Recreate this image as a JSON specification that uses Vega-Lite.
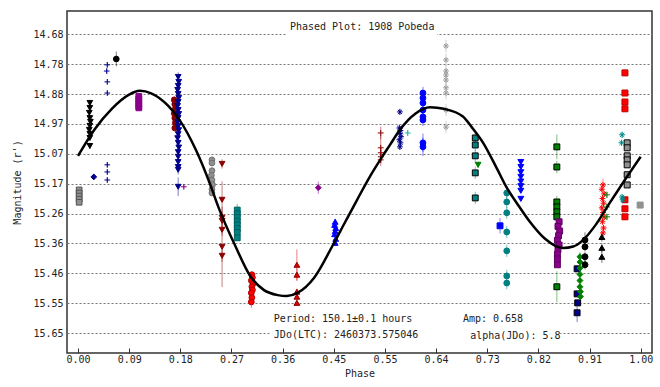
{
  "$schema": "https://vega.github.io/schema/vega-lite/v6.json",
  "width": 585,
  "height": 342,
  "autosize": {"type": "none"},
  "padding": {"left": 67, "top": 11, "right": 8, "bottom": 34},
  "background": "white",
  "config": {
    "view": {"stroke": "#333333", "strokeWidth": 1.5},
    "font": "DejaVu Sans Mono",
    "axis": {"labelOverlap": false, "labelSeparation": 0},
    "axisY": {"labelOverlap": false}
  },
  "datasets": {
    "pts": [
      {"s":"s1","p":0.002,"m":15.187,"e":0.005},{"s":"s1","p":0.002,"m":15.197,"e":0.005},{"s":"s1","p":0.002,"m":15.207,"e":0.005},{"s":"s1","p":0.002,"m":15.217,"e":0.005},{"s":"s1","p":0.002,"m":15.227,"e":0.005},
      {"s":"s2","p":0.021,"m":14.906,"e":0.01},{"s":"s2","p":0.021,"m":14.922,"e":0.01},{"s":"s2","p":0.020,"m":14.938,"e":0.01},{"s":"s2","p":0.021,"m":14.955,"e":0.01},{"s":"s2","p":0.022,"m":14.967,"e":0.01},{"s":"s2","p":0.021,"m":14.98,"e":0.01},{"s":"s2","p":0.020,"m":14.993,"e":0.01},{"s":"s2","p":0.021,"m":15.006,"e":0.01},{"s":"s2","p":0.021,"m":15.019,"e":0.01},{"s":"s2","p":0.021,"m":15.045,"e":0.01},
      {"s":"s3","p":0.052,"m":14.783,"e":0.008},{"s":"s3","p":0.051,"m":14.803,"e":0.008},{"s":"s3","p":0.052,"m":14.838,"e":0.008},{"s":"s3","p":0.052,"m":14.874,"e":0.008},{"s":"s3","p":0.052,"m":15.106,"e":0.008},{"s":"s3","p":0.052,"m":15.129,"e":0.008},{"s":"s3","p":0.052,"m":15.155,"e":0.008},
      {"s":"s4","p":0.028,"m":15.145,"e":0.01},
      {"s":"s5","p":0.068,"m":14.764,"e":0.024},
      {"s":"s6","p":0.108,"m":14.885,"e":0.005},{"s":"s6","p":0.108,"m":14.893,"e":0.005},{"s":"s6","p":0.108,"m":14.901,"e":0.005},{"s":"s6","p":0.108,"m":14.909,"e":0.005},{"s":"s6","p":0.108,"m":14.917,"e":0.005},{"s":"s6","p":0.108,"m":14.922,"e":0.005},
      {"s":"s7","p":0.171,"m":14.896,"e":0.01},{"s":"s7","p":0.172,"m":14.91,"e":0.01},{"s":"s7","p":0.173,"m":14.925,"e":0.01},{"s":"s7","p":0.171,"m":14.94,"e":0.01},{"s":"s7","p":0.172,"m":14.955,"e":0.01},{"s":"s7","p":0.173,"m":14.97,"e":0.01},{"s":"s7","p":0.172,"m":14.987,"e":0.01},
      {"s":"s8","p":0.178,"m":14.822,"e":0.015},{"s":"s8","p":0.179,"m":14.838,"e":0.015},{"s":"s8","p":0.178,"m":14.851,"e":0.015},{"s":"s8","p":0.177,"m":14.864,"e":0.015},{"s":"s8","p":0.178,"m":14.877,"e":0.015},{"s":"s8","p":0.179,"m":14.89,"e":0.015},{"s":"s8","p":0.178,"m":14.903,"e":0.015},{"s":"s8","p":0.177,"m":14.916,"e":0.015},{"s":"s8","p":0.178,"m":14.929,"e":0.015},{"s":"s8","p":0.179,"m":14.942,"e":0.015},{"s":"s8","p":0.178,"m":14.955,"e":0.015},{"s":"s8","p":0.177,"m":14.968,"e":0.015},{"s":"s8","p":0.178,"m":14.981,"e":0.015},{"s":"s8","p":0.179,"m":14.994,"e":0.015},{"s":"s8","p":0.178,"m":15.007,"e":0.015},{"s":"s8","p":0.177,"m":15.02,"e":0.015},{"s":"s8","p":0.178,"m":15.035,"e":0.015},{"s":"s8","p":0.179,"m":15.05,"e":0.015},{"s":"s8","p":0.178,"m":15.065,"e":0.015},{"s":"s8","p":0.178,"m":15.08,"e":0.015},{"s":"s8","p":0.178,"m":15.097,"e":0.015},{"s":"s8","p":0.178,"m":15.113,"e":0.015},{"s":"s8","p":0.178,"m":15.122,"e":0.015},{"s":"s8","p":0.178,"m":15.177,"e":0.03},
      {"s":"s9","p":0.188,"m":15.177,"e":0.008},
      {"s":"s10","p":0.238,"m":15.09,"e":0.01},{"s":"s10","p":0.238,"m":15.1,"e":0.01},{"s":"s10","p":0.238,"m":15.125,"e":0.01},{"s":"s10","p":0.237,"m":15.14,"e":0.01},{"s":"s10","p":0.238,"m":15.155,"e":0.01},{"s":"s10","p":0.239,"m":15.17,"e":0.01},{"s":"s10","p":0.238,"m":15.185,"e":0.01},{"s":"s10","p":0.238,"m":15.197,"e":0.01},
      {"s":"s11","p":0.256,"m":15.103,"e":0.015},{"s":"s11","p":0.256,"m":15.219,"e":0.06},{"s":"s11","p":0.256,"m":15.277,"e":0.02},{"s":"s11","p":0.256,"m":15.287,"e":0.02},{"s":"s11","p":0.256,"m":15.316,"e":0.02},{"s":"s11","p":0.256,"m":15.371,"e":0.13},{"s":"s11","p":0.256,"m":15.4,"e":0.02},
      {"s":"s12","p":0.283,"m":15.252,"e":0.02},{"s":"s12","p":0.283,"m":15.264,"e":0.01},{"s":"s12","p":0.283,"m":15.276,"e":0.01},{"s":"s12","p":0.283,"m":15.288,"e":0.01},{"s":"s12","p":0.283,"m":15.3,"e":0.01},{"s":"s12","p":0.283,"m":15.312,"e":0.01},{"s":"s12","p":0.283,"m":15.324,"e":0.01},{"s":"s12","p":0.283,"m":15.342,"e":0.01},
      {"s":"s13","p":0.309,"m":15.461,"e":0.01},{"s":"s13","p":0.310,"m":15.47,"e":0.01},{"s":"s13","p":0.308,"m":15.48,"e":0.01},{"s":"s13","p":0.311,"m":15.49,"e":0.01},{"s":"s13","p":0.309,"m":15.5,"e":0.01},{"s":"s13","p":0.310,"m":15.51,"e":0.01},{"s":"s13","p":0.308,"m":15.52,"e":0.01},{"s":"s13","p":0.309,"m":15.535,"e":0.01},{"s":"s13","p":0.308,"m":15.549,"e":0.02},
      {"s":"s14","p":0.389,"m":15.429,"e":0.05},{"s":"s14","p":0.389,"m":15.461,"e":0.02},{"s":"s14","p":0.389,"m":15.516,"e":0.01},{"s":"s14","p":0.389,"m":15.532,"e":0.01},{"s":"s14","p":0.389,"m":15.552,"e":0.01},
      {"s":"s15","p":0.427,"m":15.18,"e":0.02},
      {"s":"s16","p":0.457,"m":15.29,"e":0.01},{"s":"s16","p":0.456,"m":15.3,"e":0.01},{"s":"s16","p":0.458,"m":15.31,"e":0.01},{"s":"s16","p":0.457,"m":15.32,"e":0.01},{"s":"s16","p":0.456,"m":15.33,"e":0.01},{"s":"s16","p":0.458,"m":15.345,"e":0.01},{"s":"s16","p":0.457,"m":15.358,"e":0.01},
      {"s":"s17","p":0.538,"m":15.003,"e":0.02},{"s":"s17","p":0.538,"m":15.051,"e":0.04},{"s":"s17","p":0.538,"m":15.067,"e":0.02},{"s":"s17","p":0.538,"m":15.08,"e":0.02},{"s":"s17","p":0.538,"m":15.09,"e":0.02},
      {"s":"s18","p":0.572,"m":14.935,"e":0.01},{"s":"s18","p":0.571,"m":14.987,"e":0.01},{"s":"s18","p":0.573,"m":14.995,"e":0.01},{"s":"s18","p":0.572,"m":15.005,"e":0.01},{"s":"s18","p":0.574,"m":15.015,"e":0.01},{"s":"s18","p":0.571,"m":15.025,"e":0.01},{"s":"s18","p":0.573,"m":15.035,"e":0.01},{"s":"s18","p":0.572,"m":15.048,"e":0.01},
      {"s":"s19","p":0.586,"m":15.003,"e":0.01},
      {"s":"s20","p":0.613,"m":14.874,"e":0.02},{"s":"s20","p":0.613,"m":14.89,"e":0.02},{"s":"s20","p":0.613,"m":14.906,"e":0.02},{"s":"s20","p":0.613,"m":14.929,"e":0.02},{"s":"s20","p":0.613,"m":14.951,"e":0.02},{"s":"s20","p":0.613,"m":14.961,"e":0.02},{"s":"s20","p":0.613,"m":15.035,"e":0.03},{"s":"s20","p":0.613,"m":15.048,"e":0.03},
      {"s":"s21","p":0.654,"m":14.722,"e":0.02},{"s":"s21","p":0.654,"m":14.767,"e":0.02},{"s":"s21","p":0.654,"m":14.803,"e":0.02},{"s":"s21","p":0.654,"m":14.816,"e":0.02},{"s":"s21","p":0.654,"m":14.832,"e":0.02},{"s":"s21","p":0.654,"m":14.857,"e":0.02},{"s":"s21","p":0.654,"m":14.874,"e":0.02},{"s":"s21","p":0.654,"m":14.929,"e":0.02},{"s":"s21","p":0.654,"m":14.984,"e":0.02},
      {"s":"s22","p":0.706,"m":15.019,"e":0.02},{"s":"s22","p":0.706,"m":15.042,"e":0.02},{"s":"s22","p":0.706,"m":15.077,"e":0.02},{"s":"s22","p":0.706,"m":15.132,"e":0.02},{"s":"s22","p":0.706,"m":15.213,"e":0.02},
      {"s":"s23","p":0.711,"m":15.106,"e":0.01},
      {"s":"s24","p":0.762,"m":15.197,"e":0.02},{"s":"s24","p":0.762,"m":15.226,"e":0.02},{"s":"s24","p":0.762,"m":15.261,"e":0.02},{"s":"s24","p":0.762,"m":15.323,"e":0.02},{"s":"s24","p":0.762,"m":15.384,"e":0.02},{"s":"s24","p":0.762,"m":15.465,"e":0.02},{"s":"s24","p":0.762,"m":15.488,"e":0.02},
      {"s":"s25","p":0.750,"m":15.303,"e":0.025},
      {"s":"s26","p":0.787,"m":15.097,"e":0.005},{"s":"s26","p":0.787,"m":15.113,"e":0.005},{"s":"s26","p":0.787,"m":15.13,"e":0.005},{"s":"s26","p":0.787,"m":15.145,"e":0.005},{"s":"s26","p":0.787,"m":15.16,"e":0.005},{"s":"s26","p":0.787,"m":15.175,"e":0.005},{"s":"s26","p":0.787,"m":15.19,"e":0.005},{"s":"s26","p":0.787,"m":15.216,"e":0.005},
      {"s":"s27","p":0.851,"m":15.048,"e":0.04},{"s":"s27","p":0.851,"m":15.113,"e":0.02},{"s":"s27","p":0.851,"m":15.226,"e":0.02},{"s":"s27","p":0.851,"m":15.242,"e":0.02},{"s":"s27","p":0.851,"m":15.258,"e":0.02},{"s":"s27","p":0.851,"m":15.274,"e":0.02},{"s":"s27","p":0.851,"m":15.5,"e":0.05},
      {"s":"s28","p":0.855,"m":15.29,"e":0.01},{"s":"s28","p":0.853,"m":15.305,"e":0.01},{"s":"s28","p":0.856,"m":15.32,"e":0.01},{"s":"s28","p":0.854,"m":15.335,"e":0.01},{"s":"s28","p":0.852,"m":15.35,"e":0.01},{"s":"s28","p":0.855,"m":15.365,"e":0.01},{"s":"s28","p":0.853,"m":15.38,"e":0.01},{"s":"s28","p":0.852,"m":15.395,"e":0.01},{"s":"s28","p":0.852,"m":15.41,"e":0.01},{"s":"s28","p":0.852,"m":15.429,"e":0.01},
      {"s":"s29","p":0.887,"m":15.442,"e":0.01},{"s":"s29","p":0.887,"m":15.523,"e":0.01},{"s":"s29","p":0.888,"m":15.552,"e":0.01},{"s":"s29","p":0.887,"m":15.584,"e":0.03},
      {"s":"s30","p":0.892,"m":15.403,"e":0.015},{"s":"s30","p":0.892,"m":15.42,"e":0.015},{"s":"s30","p":0.892,"m":15.44,"e":0.015},{"s":"s30","p":0.892,"m":15.46,"e":0.015},{"s":"s30","p":0.892,"m":15.48,"e":0.015},{"s":"s30","p":0.892,"m":15.5,"e":0.015},{"s":"s30","p":0.893,"m":15.516,"e":0.015},{"s":"s30","p":0.893,"m":15.532,"e":0.015},
      {"s":"s31","p":0.901,"m":15.349,"e":0.025},{"s":"s31","p":0.901,"m":15.371,"e":0.015},{"s":"s31","p":0.901,"m":15.403,"e":0.015},{"s":"s31","p":0.901,"m":15.429,"e":0.015},
      {"s":"s32","p":0.933,"m":15.171,"e":0.02},{"s":"s32","p":0.931,"m":15.185,"e":0.01},{"s":"s32","p":0.935,"m":15.2,"e":0.01},{"s":"s32","p":0.932,"m":15.215,"e":0.01},{"s":"s32","p":0.934,"m":15.23,"e":0.01},{"s":"s32","p":0.931,"m":15.245,"e":0.01},{"s":"s32","p":0.933,"m":15.26,"e":0.01},{"s":"s32","p":0.935,"m":15.275,"e":0.01},{"s":"s32","p":0.932,"m":15.29,"e":0.01},{"s":"s32","p":0.934,"m":15.31,"e":0.01},{"s":"s32","p":0.933,"m":15.326,"e":0.01},
      {"s":"s33","p":0.940,"m":15.203,"e":0.01},{"s":"s33","p":0.940,"m":15.242,"e":0.01},{"s":"s33","p":0.940,"m":15.274,"e":0.01},
      {"s":"s34","p":0.931,"m":15.339,"e":0.015},{"s":"s34","p":0.931,"m":15.374,"e":0.015},{"s":"s34","p":0.931,"m":15.403,"e":0.02},
      {"s":"s35","p":0.972,"m":14.809,"e":0.01},{"s":"s35","p":0.972,"m":14.874,"e":0.01},{"s":"s35","p":0.972,"m":14.903,"e":0.01},{"s":"s35","p":0.972,"m":14.925,"e":0.01},{"s":"s35","p":0.972,"m":15.219,"e":0.01},{"s":"s35","p":0.972,"m":15.248,"e":0.01},{"s":"s35","p":0.972,"m":15.274,"e":0.01},
      {"s":"s36","p":0.976,"m":15.035,"e":0.008},{"s":"s36","p":0.976,"m":15.051,"e":0.008},{"s":"s36","p":0.976,"m":15.077,"e":0.008},{"s":"s36","p":0.976,"m":15.09,"e":0.008},{"s":"s36","p":0.976,"m":15.106,"e":0.008},{"s":"s36","p":0.976,"m":15.138,"e":0.008},{"s":"s36","p":0.976,"m":15.171,"e":0.008},
      {"s":"s37","p":0.967,"m":15.009,"e":0.01},{"s":"s37","p":0.966,"m":15.035,"e":0.01},{"s":"s37","p":0.967,"m":15.21,"e":0.01},{"s":"s37","p":0.968,"m":15.219,"e":0.01},
      {"s":"s38","p":0.999,"m":15.236,"e":0.005}
    ],
    "fit": [
      {"p":0.0,"m":15.077},{"p":0.03,"m":14.99},{"p":0.06,"m":14.925},{"p":0.09,"m":14.88},{"p":0.11,"m":14.867},{"p":0.13,"m":14.875},{"p":0.16,"m":14.915},{"p":0.18,"m":14.96},{"p":0.21,"m":15.06},{"p":0.235,"m":15.17},{"p":0.25,"m":15.245},{"p":0.28,"m":15.37},{"p":0.306,"m":15.465},{"p":0.33,"m":15.51},{"p":0.355,"m":15.527},{"p":0.371,"m":15.53},{"p":0.39,"m":15.52},{"p":0.42,"m":15.47},{"p":0.453,"m":15.365},{"p":0.475,"m":15.29},{"p":0.496,"m":15.219},{"p":0.52,"m":15.14},{"p":0.537,"m":15.09},{"p":0.555,"m":15.04},{"p":0.572,"m":14.993},{"p":0.6,"m":14.94},{"p":0.626,"m":14.92},{"p":0.65,"m":14.925},{"p":0.684,"m":14.95},{"p":0.70,"m":14.985},{"p":0.72,"m":15.035},{"p":0.745,"m":15.12},{"p":0.762,"m":15.18},{"p":0.78,"m":15.23},{"p":0.803,"m":15.29},{"p":0.83,"m":15.345},{"p":0.862,"m":15.375},{"p":0.88,"m":15.37},{"p":0.897,"m":15.35},{"p":0.92,"m":15.3},{"p":0.945,"m":15.229},{"p":0.97,"m":15.16},{"p":1.0,"m":15.08}
    ]
  },
  "encoding": {
    "x": {"type": "quantitative", "scale": {"domain": [-0.0196, 1.0201], "nice": false, "zero": false},
      "axis": {"title": "Phase", "values": [0, 0.0909091, 0.1818182, 0.2727273, 0.3636364, 0.4545455, 0.5454545, 0.6363636, 0.7272727, 0.8181818, 0.9090909, 1], "format": ".2f", "grid": false, "domain": false, "ticks": true, "tickSize": -5, "tickColor": "#333333", "labelPadding": 6, "labelOverlap": false, "labelFont": "DejaVu Sans Mono", "labelFontSize": 10, "labelColor": "#222222", "titleFont": "DejaVu Sans Mono", "titleFontSize": 10, "titleFontWeight": "normal", "titleColor": "#222222", "titlePadding": 4}},
    "y": {"type": "quantitative", "scale": {"domain": [14.609, 15.714], "reverse": true, "nice": false, "zero": false},
      "axis": {"title": "Magnitude (r')", "values": [14.684, 14.7806, 14.8772, 14.9738, 15.0704, 15.167, 15.2636, 15.3602, 15.4568, 15.5534, 15.65], "format": ".2f", "grid": true, "gridDash": [2, 2], "gridColor": "#777777", "gridWidth": 1, "domain": false, "ticks": false, "labelPadding": 4, "labelOverlap": false, "labelFont": "DejaVu Sans Mono", "labelFontSize": 10, "labelColor": "#222222", "titleFont": "DejaVu Sans Mono", "titleFontSize": 10, "titleFontWeight": "normal", "titleColor": "#222222", "titlePadding": 10}}
  },
  "layer": [
    {
      "data": {"name": "pts"},
      "mark": {"type": "errorbar", "rule": {"strokeWidth": 1, "opacity": 0.5}},
      "encoding": {
        "x": {"field": "p", "type": "quantitative"},
        "y": {"field": "m", "type": "quantitative"},
        "yError": {"field": "e"},
        "color": {"field": "s", "type": "nominal", "legend": null,
          "scale": {"domain": ["s1","s2","s3","s4","s5","s6","s7","s8","s9","s10","s11","s12","s13","s14","s15","s16","s17","s18","s19","s20","s21","s22","s23","s24","s25","s26","s27","s28","s29","s30","s31","s32","s33","s34","s35","s36","s37","s38"],
            "range": ["#909090","#000000","#00008b","#00008b","#000000","#8b008b","#8b0000","#00008b","#8b008b","#909090","#8b0000","#008080","#ff0000","#e00000","#8b008b","#0000ff","#8b0000","#00008b","#20b2aa","#0000ff","#a0a0a0","#008080","#008000","#008080","#0000ff","#0000ff","#008000","#8b008b","#00008b","#008000","#000000","#ff0000","#008000","#000000","#ff0000","#909090","#008b8b","#909090"]}}
      }
    },
    {
      "data": {"name": "pts"},
      "mark": {"type": "point", "filled": true, "strokeWidth": 1, "opacity": 1},
      "encoding": {
        "x": {"field": "p", "type": "quantitative"},
        "y": {"field": "m", "type": "quantitative"},
        "size": {"field": "s", "type": "nominal", "legend": null,
          "scale": {"domain": ["s1","s2","s3","s4","s5","s6","s7","s8","s9","s10","s11","s12","s13","s14","s15","s16","s17","s18","s19","s20","s21","s22","s23","s24","s25","s26","s27","s28","s29","s30","s31","s32","s33","s34","s35","s36","s37","s38"],
            "range": [32,36,50,30,32,32,32,36,50,32,36,36,36,36,24,36,55,50,50,32,50,55,36,30,36,32,55,36,55,24,32,50,50,36,36,55,50,32]}},
        "shape": {"field": "s", "type": "nominal", "legend": null,
          "scale": {"domain": ["s1","s2","s3","s4","s5","s6","s7","s8","s9","s10","s11","s12","s13","s14","s15","s16","s17","s18","s19","s20","s21","s22","s23","s24","s25","s26","s27","s28","s29","s30","s31","s32","s33","s34","s35","s36","s37","s38"],
            "range": ["square","triangle-down","M-1,0H1M0,-1V1","diamond","circle","square","circle","triangle-down","M-1,0H1M0,-1V1","circle","triangle-down","square","circle","triangle-up","diamond","triangle-up","M-1,0H1M0,-1V1","M-1,0H1M0,-1V1M-0.7,-0.7L0.7,0.7M-0.7,0.7L0.7,-0.7","M-1,0H1M0,-1V1","circle","M-1,0H1M0,-1V1M-0.7,-0.7L0.7,0.7M-0.7,0.7L0.7,-0.7","square","triangle-down","circle","square","triangle-down","square","square","square","diamond","circle","M-1,0H1M0,-1V1M-0.7,-0.7L0.7,0.7M-0.7,0.7L0.7,-0.7","M-1,0H1M0,-1V1","triangle-up","square","square","M-1,0H1M0,-1V1M-0.7,-0.7L0.7,0.7M-0.7,0.7L0.7,-0.7","square"]}},
        "fill": {"field": "s", "type": "nominal", "legend": null,
          "scale": {"domain": ["s1","s2","s3","s4","s5","s6","s7","s8","s9","s10","s11","s12","s13","s14","s15","s16","s17","s18","s19","s20","s21","s22","s23","s24","s25","s26","s27","s28","s29","s30","s31","s32","s33","s34","s35","s36","s37","s38"],
            "range": ["#909090","#000000","#00008b","#00008b","#000000","#8b008b","#8b0000","#00008b","#8b008b","#909090","#8b0000","#008080","#ff0000","#e00000","#8b008b","#0000ff","#8b0000","#00008b","#20b2aa","#0000ff","#a0a0a0","#008080","#008000","#008080","#0000ff","#0000ff","#008000","#8b008b","#00008b","#008000","#000000","#ff0000","#008000","#000000","#ff0000","#909090","#008b8b","#909090"]}},
        "stroke": {"field": "s", "type": "nominal", "legend": null,
          "scale": {"domain": ["s1","s2","s3","s4","s5","s6","s7","s8","s9","s10","s11","s12","s13","s14","s15","s16","s17","s18","s19","s20","s21","s22","s23","s24","s25","s26","s27","s28","s29","s30","s31","s32","s33","s34","s35","s36","s37","s38"],
            "range": ["#505050","#000000","#00008b","#00008b","#000000","#8b008b","#8b0000","#00008b","#8b008b","#707070","#8b0000","#005f5f","#b00000","#8b0000","#8b008b","#0000ff","#8b0000","#00008b","#20b2aa","#0000ff","#a0a0a0","#000000","#008000","#008080","#0000ff","#0000ff","#000000","#600060","#000000","#008000","#000000","#ff0000","#008000","#000000","#c00000","#000000","#008b8b","#909090"]}},
        "strokeWidth": {"field": "s", "type": "nominal", "legend": null,
          "scale": {"domain": ["s1","s2","s3","s4","s5","s6","s7","s8","s9","s10","s11","s12","s13","s14","s15","s16","s17","s18","s19","s20","s21","s22","s23","s24","s25","s26","s27","s28","s29","s30","s31","s32","s33","s34","s35","s36","s37","s38"],
            "range": [1,1,2,1,1,1,1,1,2,1,1,1,1,1,1,1,2,2,2,1,2,1.6,1,1,1,1,1.6,1,1.6,1,1,2,2,1,1,1.6,2,1]}}
      }
    },
    {
      "data": {"name": "fit"},
      "mark": {"type": "line", "color": "#000000", "strokeWidth": 2.5, "interpolate": "monotone"},
      "encoding": {
        "x": {"field": "p", "type": "quantitative"},
        "y": {"field": "m", "type": "quantitative"}
      }
    },
    {
      "data": {"values": [{}]},
      "mark": {"type": "rect", "fill": "white"},
      "encoding": {
        "x": {"datum": 0.371, "type": "quantitative"},
        "x2": {"datum": 0.638},
        "y": {"datum": 14.632, "type": "quantitative"},
        "y2": {"datum": 14.690}
      }
    },
    {
      "data": {"values": [{}]},
      "mark": {"type": "rect", "fill": "white"},
      "encoding": {
        "x": {"datum": 0.341, "type": "quantitative"},
        "x2": {"datum": 0.857},
        "y": {"datum": 15.573, "type": "quantitative"},
        "y2": {"datum": 15.688}
      }
    },
    {
      "data": {"values": [{}]},
      "mark": {"type": "text", "align": "center", "baseline": "middle", "font": "DejaVu Sans Mono", "fontSize": 10, "fill": "#222222"},
      "encoding": {
        "x": {"datum": 0.505, "type": "quantitative"},
        "y": {"datum": 14.660, "type": "quantitative"},
        "text": {"value": "Phased Plot: 1908 Pobeda"}
      }
    },
    {
      "data": {"values": [{}]},
      "mark": {"type": "text", "align": "left", "baseline": "middle", "font": "DejaVu Sans Mono", "fontSize": 10, "fill": "#222222"},
      "encoding": {
        "x": {"datum": 0.348, "type": "quantitative"},
        "y": {"datum": 15.604, "type": "quantitative"},
        "text": {"value": "Period: 150.1±0.1 hours"}
      }
    },
    {
      "data": {"values": [{}]},
      "mark": {"type": "text", "align": "left", "baseline": "middle", "font": "DejaVu Sans Mono", "fontSize": 10, "fill": "#222222"},
      "encoding": {
        "x": {"datum": 0.348, "type": "quantitative"},
        "y": {"datum": 15.656, "type": "quantitative"},
        "text": {"value": "JDo(LTC): 2460373.575046"}
      }
    },
    {
      "data": {"values": [{}]},
      "mark": {"type": "text", "align": "left", "baseline": "middle", "font": "DejaVu Sans Mono", "fontSize": 10, "fill": "#222222"},
      "encoding": {
        "x": {"datum": 0.684, "type": "quantitative"},
        "y": {"datum": 15.604, "type": "quantitative"},
        "text": {"value": "Amp: 0.658"}
      }
    },
    {
      "data": {"values": [{}]},
      "mark": {"type": "text", "align": "left", "baseline": "middle", "font": "DejaVu Sans Mono", "fontSize": 10, "fill": "#222222"},
      "encoding": {
        "x": {"datum": 0.697, "type": "quantitative"},
        "y": {"datum": 15.659, "type": "quantitative"},
        "text": {"value": "alpha(JDo): 5.8"}
      }
    }
  ]
}
